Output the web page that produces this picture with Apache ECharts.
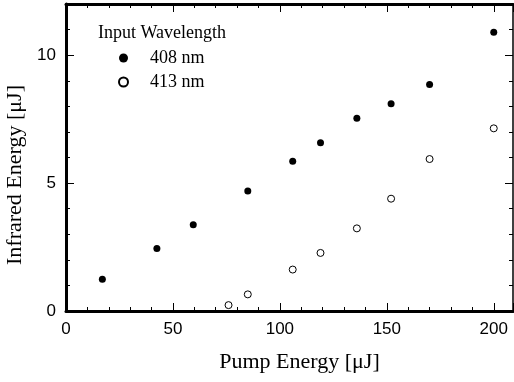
<!DOCTYPE html>
<html>
<head>
<meta charset="utf-8">
<script src="https://cdn.jsdelivr.net/npm/echarts@6/dist/echarts.min.js"></script>
<style>
  html, body { margin: 0; padding: 0; background: #fff; }
</style>
</head>
<body>
<div id="chart" style="width: 514px; height: 382px"></div>
<script>
// pump energy (uJ) vs infrared energy (uJ)
var pump408 = [17, 42.5, 59.5, 85, 106, 119, 136, 152, 170, 200];
var ir408 = [1.24, 2.44, 3.37, 4.69, 5.85, 6.58, 7.53, 8.1, 8.85, 10.9];
var pump413 = [76, 85, 106, 119, 136, 152, 170, 200];
var ir413 = [0.23, 0.65, 1.62, 2.27, 3.23, 4.39, 5.94, 7.14];
var seriesNames = ["408 nm", "413 nm"];

function pairs(xs, ys) {
  var out = [];
  for (var i = 0; i < xs.length; i++) out.push([xs[i], ys[i]]);
  return out;
}

var serif = "Liberation Serif";
var sans = "Liberation Sans";

// shared axis look, ticks pointing inward
function axisBase(width, showLabels) {
  return {
    axisLine: { show: true, onZero: false, lineStyle: { color: "#000", width: width } },
    axisTick: { show: true, inside: true, length: 8, lineStyle: { color: "#000", width: 1 } },
    minorTick: { show: true, splitNumber: 5, length: 4, lineStyle: { color: "#000", width: 1 } },
    splitLine: { show: false },
    axisLabel: {
      show: showLabels,
      showMaxLabel: false,
      margin: 10,
      color: "#000",
      fontFamily: sans,
      fontSize: 17,
    },
  };
}

var myChart = echarts.init(document.getElementById("chart"));
myChart.setOption({
  backgroundColor: "#fff",
  animation: false,
  title: {
    text: "Input Wavelength",
    left: 93,
    top: 19,
    textStyle: { fontFamily: serif, fontSize: 18, fontWeight: "normal", color: "#000" },
  },
  legend: {
    orient: "vertical",
    left: 118,
    top: 49,
    padding: 0,
    itemWidth: 9,
    itemHeight: 9,
    itemGap: 6,
    data: seriesNames,
    textStyle: { fontFamily: serif, fontSize: 18, lineHeight: 18, color: "#000", padding: [0, 0, 0, 17] },
  },
  grid: { left: 66, right: 1, top: 4, bottom: 71, outerBoundsMode: "none" },
  xAxis: [
    Object.assign(axisBase(3, true), {
      type: "value",
      min: 0,
      max: 209,
      interval: 50,
      position: "bottom",
      name: "Pump Energy [μJ]",
      nameLocation: "middle",
      nameGap: 40,
      nameTextStyle: { fontFamily: serif, fontSize: 22, color: "#000", padding: [0, 0, 0, 20] },
    }),
    Object.assign(axisBase(3, false), {
      type: "value",
      min: 0,
      max: 209,
      interval: 50,
      position: "top",
    }),
  ],
  yAxis: [
    Object.assign(axisBase(3, true), {
      type: "value",
      min: 0,
      max: 12,
      interval: 5,
      position: "left",
      name: "Infrared Energy [μJ]",
      nameLocation: "middle",
      nameGap: 38,
      nameTextStyle: { fontFamily: serif, fontSize: 22, color: "#000", padding: [0, 35, 0, 0] },
    }),
    Object.assign(axisBase(1.5, false), {
      type: "value",
      min: 0,
      max: 12,
      interval: 5,
      position: "right",
    }),
  ],
  series: [
    {
      name: seriesNames[0],
      type: "scatter",
      symbol: "circle",
      symbolSize: 7,
      itemStyle: { color: "#000", opacity: 1 },
      data: pairs(pump408, ir408),
    },
    {
      name: seriesNames[1],
      type: "scatter",
      symbol: "circle",
      symbolSize: 7,
      itemStyle: { color: "#fff", borderColor: "#000", borderWidth: 1, opacity: 1 },
      data: pairs(pump413, ir413),
    },
  ],
});
</script>
</body>
</html>
